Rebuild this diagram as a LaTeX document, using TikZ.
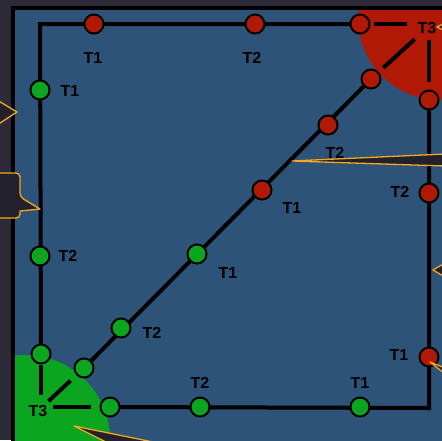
\documentclass[tikz,border=0pt]{standalone}
\usepackage{fontspec}
\setmainfont{Liberation Sans}
\usetikzlibrary{arrows.meta,calc,positioning,backgrounds}

\definecolor{bgdark}{HTML}{2B2A36}
\definecolor{panelblue}{HTML}{2D5478}
\definecolor{stopred}{HTML}{B01906}
\definecolor{stopgreen}{HTML}{0CA520}
\definecolor{tipfill}{HTML}{22212C}
\definecolor{tiporange}{HTML}{F5A623}

\begin{document}
\begin{tikzpicture}[x=1pt, y=-1pt,
  redstop/.style={circle, draw=black, line width=2pt, fill=stopred, minimum size=19pt, inner sep=0pt},
  greenstop/.style={circle, draw=black, line width=2pt, fill=stopgreen, minimum size=19pt, inner sep=0pt},
  tag/.style={font=\fontsize{16}{16}\selectfont\bfseries, inner sep=1pt},
  hub/.style={font=\fontsize{16}{16}\selectfont\bfseries, inner sep=4pt},
  track/.style={line width=4pt},
  tip/.style={fill=tipfill, draw=tiporange, line width=1.3pt, line join=round}]
  \useasboundingbox (0,0) rectangle (442,440);

  % stops on the outer loop
  \node[redstop] (rn1) at (94,24) {};
  \node[redstop] (rn2) at (255,24) {};
  \node[redstop] (rn3) at (360,24) {};
  \node[redstop] (re3) at (429,100) {};
  \node[redstop] (re2) at (429,193) {};
  \node[redstop] (re1) at (429,357) {};
  \node[greenstop] (gw1) at (40,90) {};
  \node[greenstop] (gw2) at (40,256) {};
  \node[greenstop] (gw3) at (41,354) {};
  \node[greenstop] (gs1) at (110,407) {};
  \node[greenstop] (gs2) at (200,407) {};
  \node[greenstop] (gs3) at (360,407) {};
  % stops on the diagonal
  \node[greenstop] (gd1) at (84,368) {};
  \node[greenstop] (gd2) at (121,328) {};
  \node[greenstop] (gd3) at (197,254) {};
  \node[redstop] (rd1) at (262,190) {};
  \node[redstop] (rd2) at (328,125) {};
  \node[redstop] (rd3) at (371,79) {};
  \coordinate (nw) at (40,24);
  \coordinate (se) at (429,408);

  % hubs
  \node[hub] (hubne) at (427,28) {T3};
  \node[hub] (hubsw) at (38,411) {T3};

  % labels
  \node[tag] (lrn1) at (93,58) {T1};
  \node[tag] (lrn2) at (252,58) {T2};
  \node[tag] (lgw1) at (70,91) {T1};
  \node[tag] (lgw2) at (68,256) {T2};
  \node[tag] (lre2) at (400,192) {T2};
  \node[tag] (lre1) at (399,355) {T1};
  \node[tag] (lgs2) at (200,383) {T2};
  \node[tag] (lgs3) at (360,383) {T1};
  \node[tag] (lgd2) at (152,333) {T2};
  \node[tag] (lgd3) at (228,273) {T1};
  \node[tag] (lrd1) at (292,208) {T1};
  \node[tag] (lrd2) at (335,153) {T2};

  \begin{pgfonlayer}{background}
    \fill[bgdark] (0,0) rectangle (442,440);
    \fill[panelblue] (13,8) rectangle (450,450);
    \begin{scope}
      \clip (15,10) rectangle (450,450);
      \fill[stopred] (440,18) circle (82);
      \fill[stopgreen] (25,440) circle (85);
    \end{scope}
    \draw[line width=4pt] (13,450) |- (450,8);
    \draw[track] (gw3.center) -- (nw) -- (rn3.center);
    \draw[track] (gs1.center) -- (se) -- (re3.center);
    \draw[track] (gd1.center) -- (rd3.center);
  \end{pgfonlayer}

  \draw[track, shorten <=6pt, shorten >=3pt] (rn3 -| hubne.west) -- (rn3.east);
  \draw[track, shorten <=2pt, shorten >=6pt] (hubne) -- (rd3);
  \draw[track, shorten <=2pt, shorten >=8pt] (re3 |- hubne.south) -- (re3.north);
  \draw[track, shorten <=6pt] (gw3 |- hubsw.north) -- (gw3.south);
  \draw[track, shorten >=8pt] (hubsw) -- (gd1);
  \draw[track, shorten <=1.5pt, shorten >=8.5pt] (gs1 -| hubsw.east) -- (gs1.west);

  % tooltip pointers over the picture
  \filldraw[tip] (-3,100) -- (17,112) -- (-3,125);
  \filldraw[tip, rounded corners=4pt] (-5,173) -- (20,173) -- (20,197)
    [sharp corners] -- (40,209) -- (20,211) [rounded corners=4pt] -- (20,218) -- (-5,218) -- cycle;
  \filldraw[tip] (445,154) -- (292,161) -- (445,166);
  \filldraw[tip] (445,263) -- (433,270) -- (445,277);
  \filldraw[tip] (445,23) -- (437,27) -- (445,31);
  \filldraw[tip] (445,368) -- (430,362) -- (445,374);
  \filldraw[tip] (74,426) -- (158,443) -- (108,443) -- cycle;
\end{tikzpicture}
\end{document}
